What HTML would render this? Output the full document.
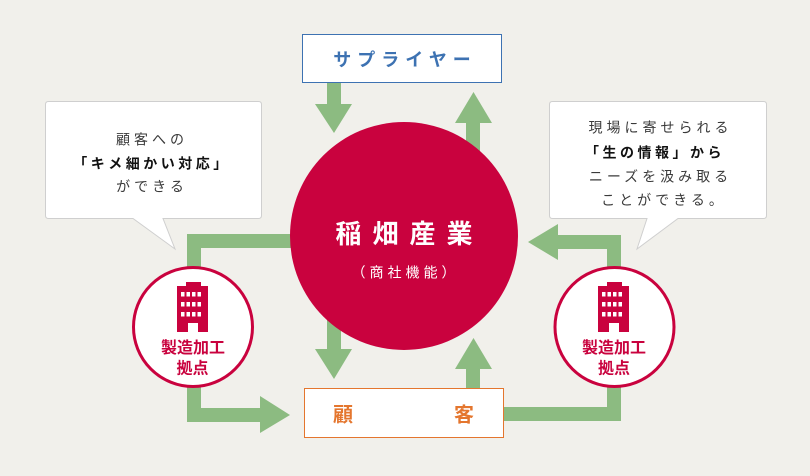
<!DOCTYPE html>
<html><head><meta charset="utf-8"><style>
html,body{margin:0;padding:0;background:#f1f0eb;}
svg{display:block;}
text{font-family:"Liberation Sans","Noto Sans CJK JP",sans-serif;}
</style></head><body>
<svg width="810" height="476" viewBox="0 0 810 476" xmlns="http://www.w3.org/2000/svg">
<rect x="0" y="0" width="810" height="476" fill="#f1f0eb"/>

<!-- bubbles -->
<path d="M48.5,101.5 H258.5 Q261.5,101.5 261.5,104.5 V215.5 Q261.5,218.5 258.5,218.5 H163 L175,249 L133,218.5 H48.5 Q45.5,218.5 45.5,215.5 V104.5 Q45.5,101.5 48.5,101.5 Z" fill="#fff" stroke="#cfcfcf" stroke-width="1"/>
<path d="M552.5,101.5 H763.5 Q766.5,101.5 766.5,104.5 V215.5 Q766.5,218.5 763.5,218.5 H678 L637,249 L647,218.5 H552.5 Q549.5,218.5 549.5,215.5 V104.5 Q549.5,101.5 552.5,101.5 Z" fill="#fff" stroke="#cfcfcf" stroke-width="1"/>

<g fill="#8cbb81">
<!-- supplier -> center -->
<rect x="327" y="83" width="14" height="22"/>
<polygon points="315,104 352,104 334,133"/>
<!-- center -> supplier -->
<rect x="466" y="122" width="14" height="40"/>
<polygon points="455,123 492,123 473.5,92"/>
<!-- center -> customer -->
<rect x="327" y="320" width="14" height="30"/>
<polygon points="315,349 352,349 334,379"/>
<!-- customer -> center -->
<rect x="466" y="368" width="14" height="21"/>
<polygon points="455,369 492,369 473.5,338"/>
<!-- left loop -->
<rect x="187" y="234" width="120" height="14"/>
<rect x="187" y="234" width="14" height="188"/>
<rect x="187" y="408" width="75" height="14"/>
<polygon points="260,396 260,433 290,415"/>
<!-- right loop -->
<rect x="500" y="407" width="121" height="14"/>
<rect x="607" y="235" width="14" height="186"/>
<rect x="556" y="235" width="65" height="14"/>
<polygon points="558,224 558,260 528,242"/>
</g>

<!-- supplier box -->
<rect x="302.5" y="34.5" width="199" height="48" fill="#fff" stroke="#3d72b2" stroke-width="1"/>
<text x="405" y="66" text-anchor="middle" font-size="18" font-weight="bold" fill="#3d72b2" letter-spacing="6">サプライヤー</text>

<!-- customer box -->
<rect x="304.5" y="388.5" width="199" height="49" fill="#fff" stroke="#e4762e" stroke-width="1"/>
<text x="343" y="421.5" text-anchor="middle" font-size="20" font-weight="bold" fill="#e4762e">顧</text>
<text x="464" y="421.5" text-anchor="middle" font-size="20" font-weight="bold" fill="#e4762e">客</text>

<!-- center circle -->
<circle cx="404" cy="236" r="114" fill="#c9023e"/>
<text x="409.5" y="243" text-anchor="middle" font-size="26" font-weight="bold" fill="#fff" letter-spacing="11">稲畑産業</text>
<text x="405.5" y="277.5" text-anchor="middle" font-size="14" fill="#fff" letter-spacing="4">（商社機能）</text>

<!-- left factory -->
<circle cx="193" cy="327" r="59.5" fill="#fff" stroke="#c9023e" stroke-width="3"/>
<g fill="#c9023e">
<rect x="186" y="282" width="15" height="5"/>
<rect x="177" y="286" width="31" height="46"/>
</g>
<g fill="#fff">
<rect x="181" y="292" width="3.5" height="4.5"/><rect x="186.5" y="292" width="3.5" height="4.5"/><rect x="192" y="292" width="3.5" height="4.5"/><rect x="197.5" y="292" width="3.5" height="4.5"/>
<rect x="181" y="302" width="3.5" height="4.5"/><rect x="186.5" y="302" width="3.5" height="4.5"/><rect x="192" y="302" width="3.5" height="4.5"/><rect x="197.5" y="302" width="3.5" height="4.5"/>
<rect x="181" y="312" width="3.5" height="4.5"/><rect x="186.5" y="312" width="3.5" height="4.5"/><rect x="192" y="312" width="3.5" height="4.5"/><rect x="197.5" y="312" width="3.5" height="4.5"/>
<rect x="188" y="323" width="10" height="9"/>
</g>
<text x="193" y="353" text-anchor="middle" font-size="16" font-weight="bold" fill="#c9023e">製造加工</text>
<text x="192.5" y="373.5" text-anchor="middle" font-size="16" font-weight="bold" fill="#c9023e">拠点</text>

<!-- right factory -->
<circle cx="614.5" cy="327" r="59.5" fill="#fff" stroke="#c9023e" stroke-width="3"/>
<g transform="translate(421,0)">
<g fill="#c9023e">
<rect x="186" y="282" width="15" height="5"/>
<rect x="177" y="286" width="31" height="46"/>
</g>
<g fill="#fff">
<rect x="181" y="292" width="3.5" height="4.5"/><rect x="186.5" y="292" width="3.5" height="4.5"/><rect x="192" y="292" width="3.5" height="4.5"/><rect x="197.5" y="292" width="3.5" height="4.5"/>
<rect x="181" y="302" width="3.5" height="4.5"/><rect x="186.5" y="302" width="3.5" height="4.5"/><rect x="192" y="302" width="3.5" height="4.5"/><rect x="197.5" y="302" width="3.5" height="4.5"/>
<rect x="181" y="312" width="3.5" height="4.5"/><rect x="186.5" y="312" width="3.5" height="4.5"/><rect x="192" y="312" width="3.5" height="4.5"/><rect x="197.5" y="312" width="3.5" height="4.5"/>
<rect x="188" y="323" width="10" height="9"/>
</g>
</g>
<text x="614" y="353" text-anchor="middle" font-size="16" font-weight="bold" fill="#c9023e">製造加工</text>
<text x="614" y="373.5" text-anchor="middle" font-size="16" font-weight="bold" fill="#c9023e">拠点</text>

<!-- left bubble text -->
<text x="152" y="144.3" text-anchor="middle" font-size="14" fill="#3a3a3a" letter-spacing="4">顧客への</text>
<text x="152" y="168.3" text-anchor="middle" font-size="14" font-weight="bold" fill="#111" letter-spacing="3.5">「キメ細かい対応」</text>
<text x="152" y="191.3" text-anchor="middle" font-size="14" fill="#3a3a3a" letter-spacing="4">ができる</text>

<!-- right bubble text -->
<text x="660.5" y="132.3" text-anchor="middle" font-size="14" fill="#3a3a3a" letter-spacing="4">現場に寄せられる</text>
<text x="655" y="157.3" text-anchor="middle" font-size="14" font-weight="bold" fill="#111" letter-spacing="3.5">「生の情報」から</text>
<text x="660.5" y="181.3" text-anchor="middle" font-size="14" fill="#3a3a3a" letter-spacing="4">ニーズを汲み取る</text>
<text x="664" y="204.8" text-anchor="middle" font-size="14" fill="#3a3a3a" letter-spacing="4">ことができる。</text>
</svg>
</body></html>
